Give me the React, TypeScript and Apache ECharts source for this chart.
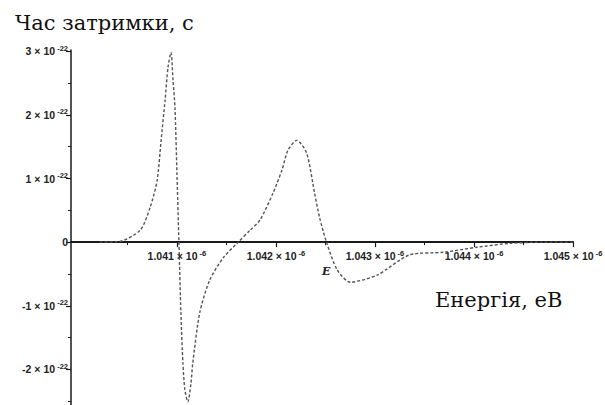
import React, { useEffect, useRef } from "react";
import * as echarts from "echarts";

// Energy, in units of 10^-6 eV
const energy = [
  1.04022, 1.04042, 1.04063, 1.04073, 1.0408, 1.04084, 1.04088, 1.04091, 1.04094, 1.04096,
  1.04098, 1.041, 1.04102, 1.04104, 1.04106, 1.04108, 1.04111, 1.04114, 1.04116, 1.04123,
  1.04133, 1.04147, 1.04162, 1.04174, 1.04184, 1.04197, 1.04206, 1.04212, 1.04221, 1.04231,
  1.04239, 1.04244, 1.04251, 1.04262, 1.04275, 1.04302, 1.04335, 1.04369, 1.04403, 1.04436,
  1.0447, 1.045,
];
// Delay time, in units of 10^-22 s
const delay = [
  0, 0.01, 0.19, 0.55, 0.97, 1.6, 2.23, 2.75, 2.98, 2.55,
  2.12, 1.08, 0, -1.11, -1.9, -2.32, -2.51, -2.24, -1.9, -1.11,
  -0.6, -0.24, 0, 0.19, 0.35, 0.77, 1.13, 1.44, 1.6, 1.4,
  0.77, 0.39, 0, -0.44, -0.63, -0.52, -0.2, -0.16, -0.08, -0.02,
  0, 0,
];

const xMajorTicks = [1.041, 1.042, 1.043, 1.044, 1.045];
const xMinorTicks = [1.0405, 1.0415, 1.0425, 1.0435, 1.0445];
const yMajorTicks = [-2, -1, 0, 1, 2, 3];
const yMinorTicks = [-2.5, -1.5, -0.5, 0.5, 1.5, 2.5];

const xMin = 1.03993;
const xMax = 1.045;
const yMin = -2.56;
const yMax = 3.02;

const titleText = "Час затримки, с";
const xTitleText = "Енергія, еВ";
const xSymbolText = "E";

export default function App() {
  const ref = useRef<HTMLDivElement>(null);
  useEffect(() => {
    if (!ref.current) return;
    const chart = echarts.init(ref.current, null, { renderer: "svg" });
    const axisColor = "#1a1a1a";
    const labelFont = "Liberation Sans";
    const serif = "DejaVu Serif";
    const gridTop = 50;
    const gridHeight = 355;
    const grid = { left: 71, right: 32, top: gridTop, height: gridHeight, outerBoundsMode: "none", containLabel: false };
    // x axis sits on the value 0 of the y axis
    const zeroOffset = -((0 - yMin) / (yMax - yMin)) * gridHeight;
    const richLabel = {
      b: { fontSize: 10.5, lineHeight: 14, fontFamily: labelFont, fontWeight: "bold", color: "#222" },
      s: { fontSize: 7.5, lineHeight: 14, verticalAlign: "top", fontFamily: labelFont, fontWeight: "bold", color: "#222" },
    };
    const bigText = { fontFamily: serif, fontSize: 21, fontWeight: "normal", color: "#111" };
    chart.setOption({
      animation: false,
      backgroundColor: "#ffffff",
      title: [
        { text: titleText, left: 15, top: 12, padding: 0, textStyle: bigText },
        { text: xTitleText, left: 435, top: 289, padding: 0, textStyle: bigText },
        {
          text: xSymbolText,
          left: 322,
          top: 266,
          padding: 0,
          textStyle: { fontFamily: serif, fontSize: 11, fontStyle: "italic", fontWeight: "bold", color: "#222" },
        },
      ],
      grid: [grid, { ...grid }],
      xAxis: [
        {
          type: "value",
          gridIndex: 0,
          min: xMin,
          max: xMax,
          position: "bottom",
          offset: zeroOffset,
          axisLine: { show: true, onZero: false, lineStyle: { color: axisColor, width: 2 } },
          axisTick: { show: true, length: 5, customValues: xMajorTicks, lineStyle: { color: axisColor, width: 1.2 } },
          splitLine: { show: false },
          axisLabel: {
            show: true,
            customValues: xMajorTicks,
            margin: 7,
            color: "#222",
            fontFamily: labelFont,
            fontWeight: "bold",
            formatter: (v: number) => `{b|${v.toFixed(3)} × 10}{s| -6}`,
            rich: richLabel,
          },
        },
        {
          type: "value",
          gridIndex: 1,
          min: xMin,
          max: xMax,
          position: "bottom",
          offset: zeroOffset,
          axisLine: { show: true, onZero: false, lineStyle: { color: axisColor, width: 0, opacity: 0 } },
          axisTick: { show: true, length: 3, customValues: xMinorTicks, lineStyle: { color: axisColor, width: 1 } },
          splitLine: { show: false },
          axisLabel: { show: false },
        },
      ],
      yAxis: [
        {
          type: "value",
          gridIndex: 0,
          min: yMin,
          max: yMax,
          axisLine: { show: true, onZero: false, lineStyle: { color: axisColor, width: 1.5 } },
          axisTick: { show: true, length: 5, customValues: yMajorTicks, lineStyle: { color: axisColor, width: 1.2 } },
          splitLine: { show: false },
          axisLabel: {
            show: true,
            customValues: yMajorTicks,
            margin: 3,
            color: "#222",
            fontFamily: labelFont,
            fontWeight: "bold",
            formatter: (v: number) => (v === 0 ? "{b|0}" : `{b|${v} × 10}{s| -22}`),
            rich: richLabel,
          },
        },
        {
          type: "value",
          gridIndex: 1,
          min: yMin,
          max: yMax,
          axisLine: { show: true, onZero: false, lineStyle: { color: axisColor, width: 0, opacity: 0 } },
          axisTick: { show: true, length: 3, customValues: yMinorTicks, lineStyle: { color: axisColor, width: 1 } },
          splitLine: { show: false },
          axisLabel: { show: false },
        },
      ],
      series: [
        {
          type: "line",
          xAxisIndex: 0,
          yAxisIndex: 0,
          data: energy.map((e, i) => [e, delay[i]]),
          smooth: 0.25,
          showSymbol: false,
          symbol: "none",
          lineStyle: { color: "#555", width: 1.4, type: [3, 2] },
          z: 1,
        },
      ],
    });
    return () => chart.dispose();
  }, []);
  return (
    <div
      ref={ref}
      style={{ position: "fixed", left: 0, top: 0, width: 605, height: 405, background: "#fff" }}
    />
  );
}
